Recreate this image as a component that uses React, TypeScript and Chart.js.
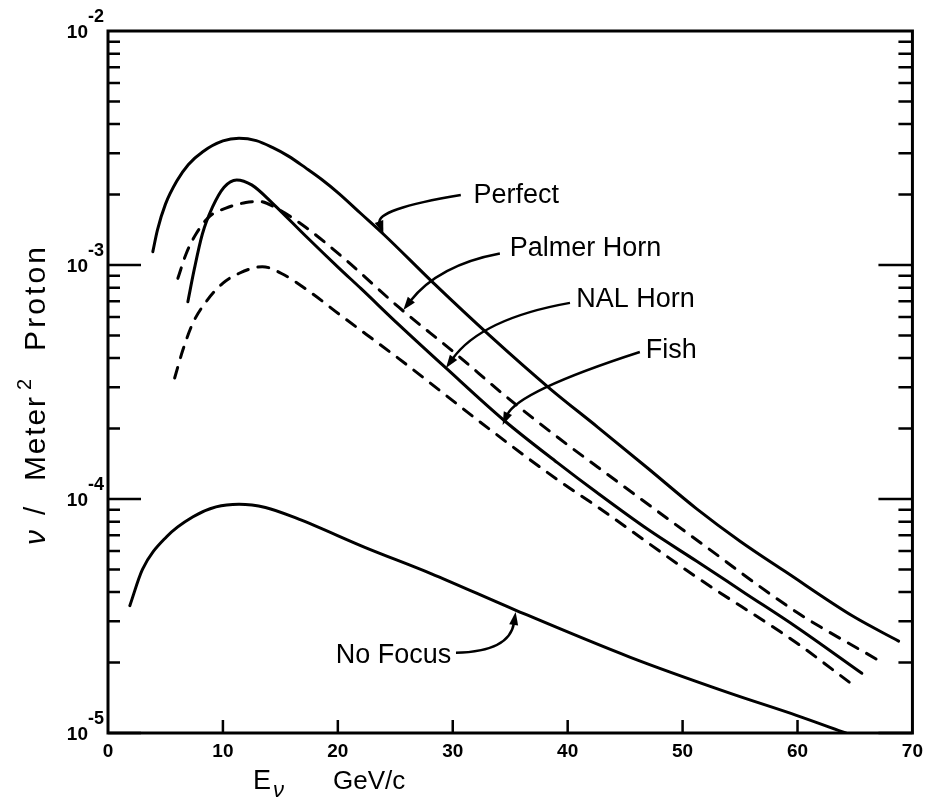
import React, { useEffect, useRef } from "react";
import { Chart, registerables } from "chart.js";

Chart.register(...registerables);

// ---- axis ticks ----
const xTickValues = [0, 10, 20, 30, 40, 50, 60, 70];
const yExponents = [-5, -4, -3, -2];

// ---- series (E_nu in GeV/c, flux in nu / m^2 proton) ----
const perfectE = [3.9, 4.3, 5.0, 6.0, 7.0, 8.25, 10.0, 11.4, 12.9, 14.3, 15.7, 17.2, 18.6, 20.1, 22.0, 24.0, 28.4, 33.2, 38.5, 42.6, 47.0, 51.2, 55.0, 59.0, 64.8, 68.8];
const perfectFlux = [1.14e-3, 1.41e-3, 1.82e-3, 2.29e-3, 2.69e-3, 3.05e-3, 3.39e-3, 3.48e-3, 3.4e-3, 3.18e-3, 2.92e-3, 2.6e-3, 2.32e-3, 2.02e-3, 1.66e-3, 1.35e-3, 8.3e-4, 5.0e-4, 2.95e-4, 2.03e-4, 1.35e-4, 9.1e-5, 6.6e-5, 4.87e-5, 3.16e-5, 2.47e-5];

const palmerE = [6.08, 6.81, 7.67, 8.82, 10.26, 11.99, 13.15, 14.9, 17.2, 20.7, 25.3, 30.2, 34.6, 39.1, 42.6, 51.2, 59.9, 67.0];
const palmerFlux = [8.77e-4, 1.12e-3, 1.36e-3, 1.61e-3, 1.75e-3, 1.85e-3, 1.87e-3, 1.72e-3, 1.45e-3, 1.05e-3, 6.6e-4, 4.2e-4, 2.75e-4, 1.84e-4, 1.37e-4, 6.7e-5, 3.29e-5, 2.05e-5];

const nalE = [6.95, 7.5, 8.2, 9.1, 10.1, 11.2, 12.5, 14.3, 17.2, 20.1, 22.0, 25.3, 29.4, 34.5, 39.1, 42.6, 47.0, 51.2, 55.5, 59.9, 65.6];
const nalFlux = [6.97e-4, 9.55e-4, 1.35e-3, 1.77e-3, 2.15e-3, 2.31e-3, 2.2e-3, 1.84e-3, 1.33e-3, 9.7e-4, 7.94e-4, 5.56e-4, 3.63e-4, 2.16e-4, 1.43e-4, 1.06e-4, 7.4e-5, 5.43e-5, 3.94e-5, 2.84e-5, 1.8e-5];

const fishE = [5.8, 6.52, 7.38, 8.54, 9.98, 11.42, 13.43, 15.1, 17.7, 20.1, 25.3, 33.3, 39.1, 42.6, 51.2, 59.9, 64.5];
const fishFlux = [3.29e-4, 4.34e-4, 5.64e-4, 6.97e-4, 8.35e-4, 9.22e-4, 9.84e-4, 9.2e-4, 7.59e-4, 6.17e-4, 3.98e-4, 1.97e-4, 1.21e-4, 9.25e-5, 4.64e-5, 2.43e-5, 1.65e-5];

const noFocusE = [1.9, 3.0, 5.1, 7.4, 9.4, 11.4, 13.7, 16.6, 22.4, 28.1, 35.4, 45.4, 54.1, 59.9, 64.2];
const noFocusFlux = [3.5e-5, 5.0e-5, 6.9e-5, 8.4e-5, 9.25e-5, 9.5e-5, 9.2e-5, 8.2e-5, 6.2e-5, 4.8e-5, 3.36e-5, 2.11e-5, 1.48e-5, 1.19e-5, 1.0e-5];

// ---- annotations (in data coordinates) ----
const labels = [
  { text: "Perfect", tx: 31.8, ty: 1.84e-3, sx: 30.7, sy: 1.99e-3, cx: 23.2, cy: 1.73e-3, ex: 23.96, ey: 1.36e-3 },
  { text: "Palmer Horn", tx: 34.95, ty: 1.09e-3, sx: 34.1, sy: 1.12e-3, cx: 28.76, cy: 1.0e-3, ex: 25.7, ey: 6.43e-4 },
  { text: "NAL Horn", tx: 40.74, ty: 6.62e-4, sx: 40.2, sy: 6.89e-4, cx: 32.48, cy: 5.9e-4, ex: 29.41, ey: 3.63e-4 },
  { text: "Fish", tx: 46.8, ty: 4.01e-4, sx: 46.28, sy: 4.25e-4, cx: 35.64, cy: 2.88e-4, ex: 34.34, ey: 2.07e-4 },
  { text: "No Focus", tx: 19.81, ty: 1.99e-5, sx: 30.28, sy: 2.2e-5, cx: 34.95, cy: 2.23e-5, ex: 35.47, ey: 3.29e-5 },
];

const FONT = '"Liberation Sans", Arial, sans-serif';

const decorPlugin = {
  id: "decor",
  afterDraw(chart: any) {
    const { ctx, chartArea: a, scales } = chart;
    const xs = scales.x;
    const ys = scales.y;
    ctx.save();
    ctx.strokeStyle = "#000";
    ctx.fillStyle = "#000";

    // frame
    ctx.lineWidth = 3;
    ctx.strokeRect(a.left, a.top, a.right - a.left, a.bottom - a.top);

    // y ticks (inward, both sides)
    ctx.lineWidth = 2.5;
    ctx.beginPath();
    for (let e = yExponents[0]; e < yExponents[yExponents.length - 1]; e++) {
      for (let k = 1; k <= 9; k++) {
        const v = k * Math.pow(10, e);
        const py = ys.getPixelForValue(v);
        const major = k === 1;
        ctx.moveTo(a.left, py);
        ctx.lineTo(a.left + (major ? 33 : 12), py);
        ctx.moveTo(a.right, py);
        ctx.lineTo(a.right - (major ? 34 : 14), py);
      }
    }
    // x ticks (inward)
    for (const t of xTickValues) {
      if (t === xs.min || t === xs.max) continue;
      const px = xs.getPixelForValue(t);
      ctx.moveTo(px, a.bottom);
      ctx.lineTo(px, a.bottom - 13);
    }
    ctx.stroke();

    // y tick labels 10^-n
    for (const e of yExponents) {
      const py = ys.getPixelForValue(Math.pow(10, e));
      ctx.font = `bold 19px ${FONT}`;
      ctx.textAlign = "right";
      ctx.textBaseline = "middle";
      ctx.fillText("10", a.left - 20, py + 2);
      ctx.font = `bold 18px ${FONT}`;
      ctx.textAlign = "left";
      ctx.fillText("-" + String(-e), a.left - 20, py - 14);
    }

    // annotations
    ctx.lineWidth = 2.5;
    for (const l of labels) {
      const sx = xs.getPixelForValue(l.sx), sy = ys.getPixelForValue(l.sy);
      const cx = xs.getPixelForValue(l.cx), cy = ys.getPixelForValue(l.cy);
      const ex = xs.getPixelForValue(l.ex), ey = ys.getPixelForValue(l.ey);
      const ang = Math.atan2(ey - cy, ex - cx);
      const L = 13, W = 4.5;
      const bx = ex - (L - 2) * Math.cos(ang), by = ey - (L - 2) * Math.sin(ang);
      ctx.beginPath();
      ctx.moveTo(sx, sy);
      ctx.quadraticCurveTo(cx, cy, bx, by);
      ctx.stroke();
      ctx.beginPath();
      ctx.moveTo(ex, ey);
      ctx.lineTo(ex - L * Math.cos(ang) + W * Math.sin(ang), ey - L * Math.sin(ang) - W * Math.cos(ang));
      ctx.lineTo(ex - L * Math.cos(ang) - W * Math.sin(ang), ey - L * Math.sin(ang) + W * Math.cos(ang));
      ctx.closePath();
      ctx.fill();
      ctx.font = `27px ${FONT}`;
      ctx.textAlign = "left";
      ctx.textBaseline = "alphabetic";
      ctx.fillText(l.text, xs.getPixelForValue(l.tx), ys.getPixelForValue(l.ty));
    }

    // x-axis title
    ctx.textAlign = "left";
    ctx.textBaseline = "alphabetic";
    ctx.font = `27px ${FONT}`;
    ctx.fillText("E", 253, 789);
    ctx.font = `italic 22px ${FONT}`;
    ctx.fillText("ν", 273, 797);
    ctx.font = `26px ${FONT}`;
    ctx.fillText("GeV/c", 333, 789);

    // y-axis title (rotated)
    ctx.save();
    ctx.translate(45, 545);
    ctx.rotate(-Math.PI / 2);
    const piece = (t: string, u: number, target: number, size: number, v = 0, style = "") => {
      ctx.font = `${style}${size}px ${FONT}`;
      const w = ctx.measureText(t).width;
      const n = t.length;
      const hasLS = "letterSpacing" in ctx;
      if (hasLS) (ctx as any).letterSpacing = n > 1 && target > w ? `${(target - w) / (n - 1)}px` : "0px";
      ctx.fillText(t, u, v);
      if (hasLS) (ctx as any).letterSpacing = "0px";
    };
    piece("ν", 0, 18, 30, 0, "italic ");
    piece("/", 30, 14, 30);
    piece("Meter", 64, 84, 30);
    piece("2", 155, 12, 20, -14);
    piece("Proton", 194, 104, 30);
    ctx.restore();

    ctx.restore();
  },
};

export default function App() {
  const ref = useRef<HTMLCanvasElement>(null);
  useEffect(() => {
    const canvas = ref.current;
    if (!canvas) return;
    const mk = (xs: number[], ys: number[]) => xs.map((x, i) => ({ x, y: ys[i] }));
    const base = {
      borderColor: "#000",
      borderWidth: 3,
      pointRadius: 0,
      fill: false,
      cubicInterpolationMode: "monotone" as const,
      borderCapStyle: "round" as const,
      borderJoinStyle: "round" as const,
    };
    const dash = [11, 10];
    const chart = new Chart(canvas, {
      type: "line",
      data: {
        datasets: [
          { ...base, label: "Perfect", data: mk(perfectE, perfectFlux) },
          { ...base, label: "Palmer Horn", data: mk(palmerE, palmerFlux), borderDash: dash },
          { ...base, label: "NAL Horn", data: mk(nalE, nalFlux) },
          { ...base, label: "Fish", data: mk(fishE, fishFlux), borderDash: dash },
          { ...base, label: "No Focus", data: mk(noFocusE, noFocusFlux) },
        ] as any,
      },
      options: {
        responsive: false,
        animation: false,
        devicePixelRatio: 1,
        layout: { padding: { top: 31, right: 13, left: 0, bottom: 0 } },
        plugins: { legend: { display: false }, tooltip: { enabled: false } },
        scales: {
          x: {
            type: "linear",
            min: 0,
            max: 70,
            grid: { display: false, drawTicks: false },
            border: { display: false },
            ticks: {
              stepSize: 10,
              autoSkip: false,
              color: "#000",
              font: { size: 19, family: FONT, weight: "bold" },
              padding: 7,
              callback: (v: any) => (xTickValues.includes(Number(v)) ? String(v) : ""),
            },
            afterFit: (s: any) => {
              s.height = 68;
            },
          },
          y: {
            type: "logarithmic",
            min: 1e-5,
            max: 1e-2,
            grid: { display: false, drawTicks: false },
            border: { display: false },
            ticks: { display: false },
            afterFit: (s: any) => {
              s.width = 108;
            },
          },
        },
      },
      plugins: [decorPlugin],
    });
    return () => chart.destroy();
  }, []);
  return (
    <canvas
      ref={ref}
      width={930}
      height={801}
      style={{ position: "absolute", left: 0, top: 0, width: 930, height: 801 }}
    />
  );
}
